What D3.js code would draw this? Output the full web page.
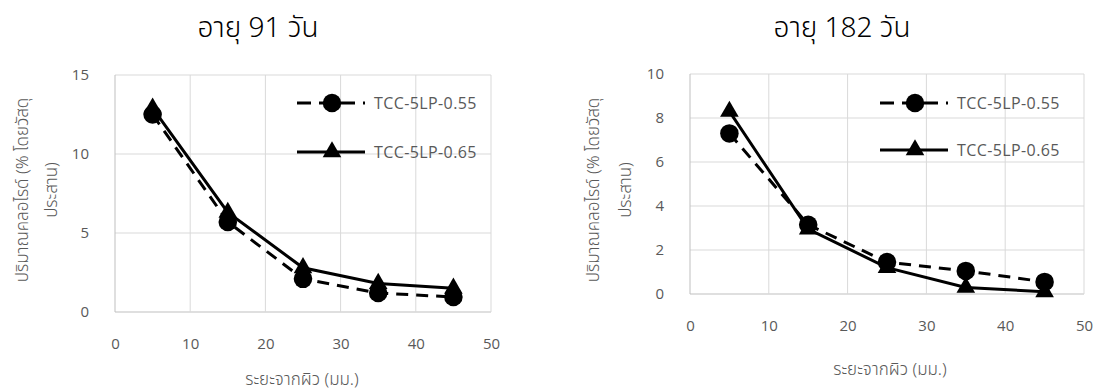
<!DOCTYPE html>
<html>
<head>
<meta charset="utf-8">
<script src="https://cdn.jsdelivr.net/npm/d3@7"></script>
<style>
  html, body { margin: 0; padding: 0; background: #fff; }
  svg { display: block; }
</style>
</head>
<body>
<svg id="chart" width="1105" height="392"></svg>
<script>
// ---------------- DATA ----------------
const depths = [5, 15, 25, 35, 45];
const day91_055 = [12.5, 5.7, 2.1, 1.2, 0.95];
const day91_065 = [12.9, 6.3, 2.8, 1.8, 1.5];
const day182_055 = [7.3, 3.15, 1.45, 1.05, 0.55];
const day182_065 = [8.3, 2.95, 1.2, 0.3, 0.1];
const xTicks = [0, 10, 20, 30, 40, 50];
const yTicks91 = [0, 5, 10, 15];
const yTicks182 = [0, 2, 4, 6, 8, 10];
const seriesNames = ["TCC-5LP-0.55", "TCC-5LP-0.65"];
const titles = ["อายุ 91 วัน", "อายุ 182 วัน"];
const xLabel = "ระยะจากผิว (มม.)";
const yLabelLines = ["ปริมาณคลอไรด์ (% โดยวัสดุ", "ประสาน)"];

// ---------------- LAYOUT ----------------
const panels = [
  { title: titles[0], s055: day91_055, s065: day91_065, yTicks: yTicks91, yMax: 15,
    left: 115, right: 491, top: 75, bottom: 312,
    titleX: 258, titleY: 37, xLabX: 302, xLabY: 385,
    yLab1X: 22, yLab2X: 51, yLabY: 190,
    legX: 297, legY: [103, 152] },
  { title: titles[1], s055: day182_055, s065: day182_065, yTicks: yTicks182, yMax: 10,
    left: 690, right: 1084, top: 74, bottom: 294,
    titleX: 842, titleY: 37, xLabX: 890, xLabY: 375,
    yLab1X: 593, yLab2X: 625, yLabY: 190,
    legX: 880, legY: [103, 150] }
];

const svg = d3.select("#chart");
const fontTick = "'Open Sans', 'Noto Sans', sans-serif";
const fontThai = "'Noto Sans', 'Noto Sans Thai', 'Noto Sans Thai Looped', sans-serif";
const greyText = "#595959";
const gridCol = "#d9d9d9";
const dash = "12,8";

panels.forEach(p => {
  const g = svg.append("g");
  const x = d3.scaleLinear().domain([0, 50]).range([p.left, p.right]);
  const y = d3.scaleLinear().domain([0, p.yMax]).range([p.bottom, p.top]);

  // gridlines
  g.selectAll(".hg").data(p.yTicks).enter().append("line")
    .attr("x1", p.left).attr("x2", p.right)
    .attr("y1", d => y(d)).attr("y2", d => y(d))
    .attr("stroke", d => d === 0 ? "#bfbfbf" : gridCol).attr("stroke-width", 1);
  g.selectAll(".vg").data(xTicks).enter().append("line")
    .attr("y1", p.top).attr("y2", p.bottom)
    .attr("x1", d => x(d)).attr("x2", d => x(d))
    .attr("stroke", d => d === 0 ? "#bfbfbf" : gridCol).attr("stroke-width", 1);

  // tick labels via axes
  const xAxis = d3.axisBottom(x).tickValues(xTicks).tickSize(0).tickPadding(26);
  const gx = g.append("g").attr("transform", `translate(0,${p.bottom})`).call(xAxis);
  gx.select(".domain").remove();
  gx.selectAll("text").attr("fill", greyText).style("font-family", fontTick).style("font-size", "15px");

  const yAxis = d3.axisLeft(y).tickValues(p.yTicks).tickSize(0).tickPadding(26);
  const gy = g.append("g").attr("transform", `translate(${p.left},0)`).call(yAxis);
  gy.select(".domain").remove();
  gy.selectAll("text").attr("fill", greyText).style("font-family", fontTick).style("font-size", "15px");

  // lines
  const line = d3.line().x((d, i) => x(depths[i])).y(d => y(d));
  g.append("path").datum(p.s055).attr("d", line).attr("fill", "none")
    .attr("stroke", "#000").attr("stroke-width", 3).attr("stroke-dasharray", dash);
  g.append("path").datum(p.s065).attr("d", line).attr("fill", "none")
    .attr("stroke", "#000").attr("stroke-width", 3);

  // markers
  const circ = d3.symbol().type(d3.symbolCircle).size(270);
  const tri = d3.symbol().type(d3.symbolTriangle).size(150);
  g.selectAll(".m1").data(p.s055).enter().append("path")
    .attr("d", circ).attr("fill", "#000")
    .attr("transform", (d, i) => `translate(${x(depths[i])},${y(d)})`);
  g.selectAll(".m2").data(p.s065).enter().append("path")
    .attr("d", tri).attr("fill", "#000")
    .attr("transform", (d, i) => `translate(${x(depths[i])},${y(d)})`);

  // legend
  const lg = g.append("g");
  lg.append("line").attr("x1", p.legX).attr("x2", p.legX + 68)
    .attr("y1", p.legY[0]).attr("y2", p.legY[0])
    .attr("stroke", "#000").attr("stroke-width", 3).attr("stroke-dasharray", "14,8");
  lg.append("path").attr("d", circ).attr("fill", "#000")
    .attr("transform", `translate(${p.legX + 35},${p.legY[0]})`);
  lg.append("line").attr("x1", p.legX).attr("x2", p.legX + 68)
    .attr("y1", p.legY[1]).attr("y2", p.legY[1])
    .attr("stroke", "#000").attr("stroke-width", 3);
  lg.append("path").attr("d", tri).attr("fill", "#000")
    .attr("transform", `translate(${p.legX + 35},${p.legY[1]})`);
  seriesNames.forEach((n, i) => {
    lg.append("text").attr("x", p.legX + 77).attr("y", p.legY[i])
      .attr("dy", "0.35em").attr("fill", greyText)
      .style("font-family", fontTick).style("font-size", "16px").style("letter-spacing", "0.4px").text(n);
  });

  // title
  g.append("text").attr("x", p.titleX).attr("y", p.titleY).attr("text-anchor", "middle")
    .attr("fill", "#000").style("font-family", fontThai).style("font-size", "28px")
    .style("font-weight", "300")
    .text(p.title);

  // x label
  g.append("text").attr("x", p.xLabX).attr("y", p.xLabY).attr("text-anchor", "middle")
    .attr("fill", greyText).style("font-family", fontThai).style("font-size", "17px")
    .style("font-weight", "300")
    .text(xLabel);

  // y label (two lines, rotated)
  [p.yLab1X, p.yLab2X].forEach((lx, i) => {
    g.append("text").attr("transform", `translate(${lx},${p.yLabY}) rotate(-90)`)
      .attr("text-anchor", "middle").attr("dy", "0.35em").attr("fill", greyText)
      .style("font-family", fontThai).style("font-size", "17px")
      .style("font-weight", "300")
      .text(yLabelLines[i]);
  });
});
</script>
</body>
</html>
